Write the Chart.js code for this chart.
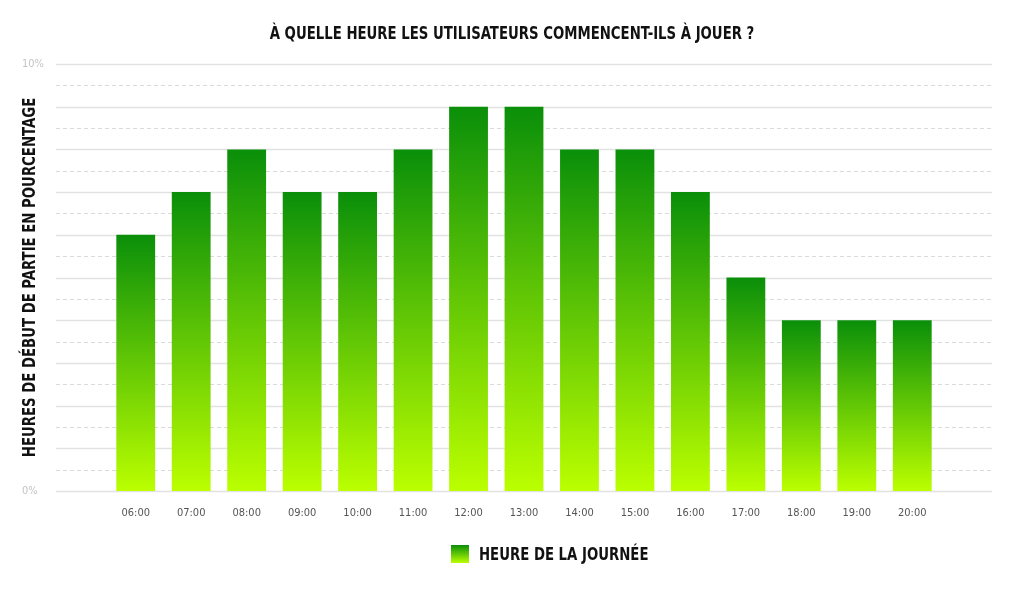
<!DOCTYPE html>
<html lang="fr">
<head>
<meta charset="utf-8">
<title>À quelle heure les utilisateurs commencent-ils à jouer ?</title>
<script src="https://cdn.jsdelivr.net/npm/chart.js@4.4.1/dist/chart.umd.min.js"></script>
<style>
  html, body { margin: 0; padding: 0; background: #fff; }
  #wrap { width: 1024px; height: 591px; position: relative; }
</style>
</head>
<body>
<div id="wrap"><canvas id="chart-heures"></canvas></div>
<script>
// ── Data ──────────────────────────────────────────────────────
const HOURS = ['06:00', '07:00', '08:00', '09:00', '10:00', '11:00', '12:00', '13:00',
               '14:00', '15:00', '16:00', '17:00', '18:00', '19:00', '20:00'];
const START_SHARE = [6, 7, 8, 7, 7, 8, 9, 9, 8, 8, 7, 5, 4, 4, 4];   // % des parties
const Y_TICKS_SHOWN = [0, 10];
const CHART_TITLE = 'À QUELLE HEURE LES UTILISATEURS COMMENCENT-ILS À JOUER ?';
const Y_TITLE = 'HEURES DE DÉBUT DE PARTIE EN POURCENTAGE';
const SERIES_LABEL = 'HEURE DE LA JOURNÉE';

// ── Styles ────────────────────────────────────────────────────
const FONT = '"DejaVu Sans Condensed", "Liberation Sans Narrow", sans-serif';
const GREEN_TOP = '#0a8f0a';
const GREEN_BOTTOM = '#bbff00';
const GRID_SOLID = '#e2e2e2';
const GRID_DASH = '#dadada';
const SQUEEZE = 0.82;   // the original face is narrower than anything installed

function barGradient(c, top, bottom) {
  const g = c.createLinearGradient(0, top, 0, bottom);
  g.addColorStop(0, GREEN_TOP);
  g.addColorStop(1, GREEN_BOTTOM);
  return g;
}

function squeezedText(ctx, text, x, y, align, rotate) {
  ctx.save();
  ctx.fillStyle = '#111';
  ctx.font = `bold 18px ${FONT}`;
  ctx.textAlign = align;
  ctx.textBaseline = 'middle';
  ctx.translate(x, y);
  if (rotate) ctx.rotate(-Math.PI / 2);
  ctx.scale(SQUEEZE, 1);
  ctx.fillText(text, 0, 0);
  ctx.restore();
}

// grid lines run wider than the bar area, so draw them from the y scale
const wideGrid = {
  id: 'wideGrid',
  beforeDatasetsDraw(chart) {
    const { ctx, chartArea, scales } = chart;
    const x0 = chartArea.left - 52, x1 = chartArea.right + 52;
    ctx.save();
    scales.y.ticks.forEach(t => {
      const y = Math.round(scales.y.getPixelForValue(t.value)) + 0.5;
      const solid = t.value % 1 === 0;
      ctx.beginPath();
      ctx.setLineDash(solid ? [] : [4, 3]);
      ctx.lineWidth = solid ? 1.5 : 1;
      ctx.strokeStyle = solid ? GRID_SOLID : GRID_DASH;
      ctx.moveTo(x0, y);
      ctx.lineTo(x1, y);
      ctx.stroke();
    });
    ctx.restore();
  }
};

// page title, rotated y title and the gradient legend
const extras = {
  id: 'extras',
  afterDraw(chart) {
    const { ctx, chartArea, width } = chart;
    squeezedText(ctx, CHART_TITLE, width / 2, chartArea.top - 30, 'center', false);
    squeezedText(ctx, Y_TITLE, 30, (chartArea.top + chartArea.bottom) / 2, 'center', true);

    const bx = 451, by = chartArea.bottom + 54, size = 18;
    ctx.save();
    ctx.fillStyle = barGradient(ctx, by, by + size);
    ctx.fillRect(bx, by, size, size);
    ctx.restore();
    squeezedText(ctx, SERIES_LABEL, bx + size + 10, by + size / 2 + 1, 'left', false);
  }
};

new Chart(document.getElementById('chart-heures'), {
  type: 'bar',
  data: {
    labels: HOURS,
    datasets: [{
      label: SERIES_LABEL,
      data: START_SHARE,
      backgroundColor: (c) => {
        const chart = c.chart;
        if (!chart.chartArea || c.type !== 'data') return GREEN_TOP;
        const top = chart.scales.y.getPixelForValue(c.raw);
        const base = chart.scales.y.getPixelForValue(0);
        if (!isFinite(top) || !isFinite(base) || top === base) return GREEN_TOP;
        return barGradient(chart.ctx, top, base);
      },
      borderWidth: 0,
      categoryPercentage: 1,
      barPercentage: 0.7
    }]
  },
  options: {
    responsive: true,
    maintainAspectRatio: false,
    animation: false,
    layout: { padding: { left: 22, right: 84, top: 64, bottom: 72 } },
    plugins: {
      legend: { display: false },
      tooltip: { enabled: false },
      title: { display: false }
    },
    scales: {
      x: {
        grid: { display: false },
        border: { display: false },
        afterFit(scale) { scale.height = 28; },
        ticks: {
          autoSkip: false,
          maxRotation: 0,
          padding: 8,
          color: '#555',
          font: { family: FONT, size: 11 }
        }
      },
      y: {
        min: 0,
        max: 10,
        grid: { display: false },
        border: { display: false },
        afterFit(scale) { scale.width = 86; },
        ticks: {
          stepSize: 0.5,
          padding: 0,
          crossAlign: 'far',
          color: '#c4c4c4',
          font: { family: FONT, size: 11 },
          callback: (v) => Y_TICKS_SHOWN.includes(v) ? v + '%' : ''
        }
      }
    }
  },
  plugins: [wideGrid, extras]
});
</script>
</body>
</html>
